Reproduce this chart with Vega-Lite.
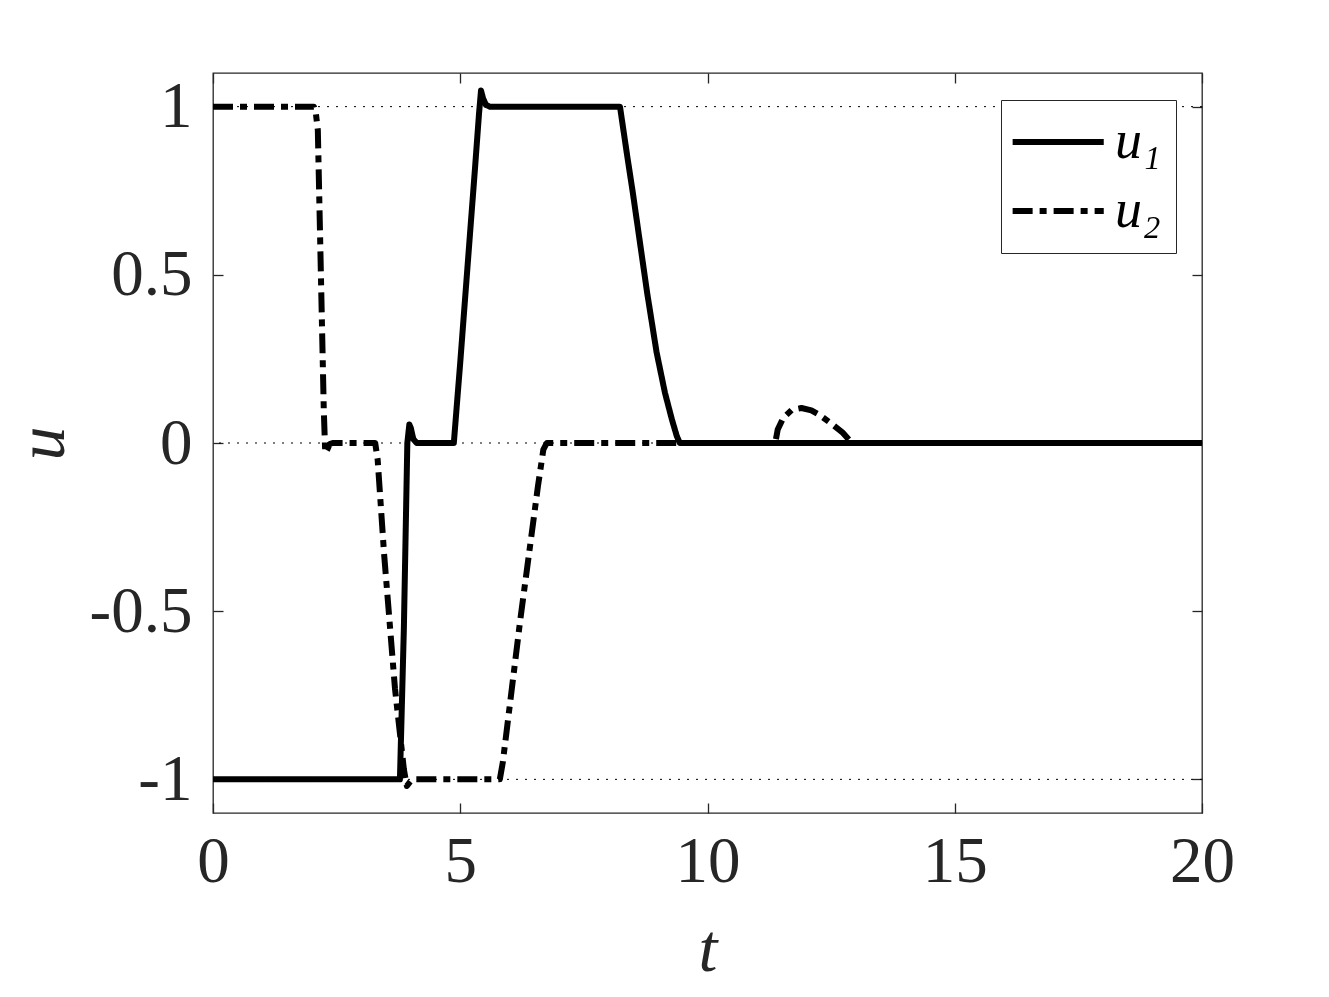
{
  "$schema": "https://vega.github.io/schema/vega-lite/v6.json",
  "width": 989,
  "height": 740,
  "autosize": {"type": "none"},
  "padding": {"left": 213, "top": 73, "right": 127, "bottom": 184},
  "background": "white",
  "config": {
    "view": {"stroke": "#262626", "strokeWidth": 1.3},
    "axis": {
      "domain": false,
      "grid": false,
      "labelFlush": false,
      "tickColor": "#262626",
      "tickWidth": 1.3,
      "tickSize": -10,
      "labelFont": "Liberation Serif",
      "labelFontSize": 65,
      "labelColor": "#262626",
      "titleFont": "Liberation Serif",
      "titleFontStyle": "italic",
      "titleFontWeight": "normal",
      "titleFontSize": 68,
      "titleColor": "#262626"
    }
  },
  "datasets": {
    "refs": [{"r": -1}, {"r": 0}, {"r": 1}],
    "lines": [
      {"s": "u₁", "t": 0, "u": -1},
      {"s": "u₁", "t": 3.78, "u": -1},
      {"s": "u₁", "t": 3.86, "u": -0.55},
      {"s": "u₁", "t": 3.93, "u": 0.0},
      {"s": "u₁", "t": 3.97, "u": 0.055},
      {"s": "u₁", "t": 4.0, "u": 0.045},
      {"s": "u₁", "t": 4.05, "u": 0.012},
      {"s": "u₁", "t": 4.12, "u": 0},
      {"s": "u₁", "t": 4.87, "u": 0},
      {"s": "u₁", "t": 5.0, "u": 0.24},
      {"s": "u₁", "t": 5.16, "u": 0.55},
      {"s": "u₁", "t": 5.3, "u": 0.82},
      {"s": "u₁", "t": 5.38, "u": 0.98},
      {"s": "u₁", "t": 5.42, "u": 1.048},
      {"s": "u₁", "t": 5.46, "u": 1.025},
      {"s": "u₁", "t": 5.52, "u": 1.005},
      {"s": "u₁", "t": 5.6, "u": 1},
      {"s": "u₁", "t": 8.23, "u": 1},
      {"s": "u₁", "t": 8.27, "u": 0.96},
      {"s": "u₁", "t": 8.38, "u": 0.85},
      {"s": "u₁", "t": 8.49, "u": 0.744},
      {"s": "u₁", "t": 8.63, "u": 0.6},
      {"s": "u₁", "t": 8.78, "u": 0.446},
      {"s": "u₁", "t": 8.97, "u": 0.27},
      {"s": "u₁", "t": 9.14, "u": 0.149},
      {"s": "u₁", "t": 9.28, "u": 0.07},
      {"s": "u₁", "t": 9.38, "u": 0.02},
      {"s": "u₁", "t": 9.44, "u": 0},
      {"s": "u₁", "t": 20, "u": 0},
      {"s": "u₂", "t": 0, "u": 1},
      {"s": "u₂", "t": 2.04, "u": 1},
      {"s": "u₂", "t": 2.08, "u": 0.98},
      {"s": "u₂", "t": 2.12, "u": 0.93},
      {"s": "u₂", "t": 2.24, "u": 0.1},
      {"s": "u₂", "t": 2.27, "u": -0.03},
      {"s": "u₂", "t": 2.31, "u": -0.02},
      {"s": "u₂", "t": 2.36, "u": -0.003},
      {"s": "u₂", "t": 2.42, "u": 0},
      {"s": "u₂", "t": 3.28, "u": 0},
      {"s": "u₂", "t": 3.33, "u": -0.05},
      {"s": "u₂", "t": 3.46, "u": -0.33},
      {"s": "u₂", "t": 3.68, "u": -0.73},
      {"s": "u₂", "t": 3.86, "u": -0.97},
      {"s": "u₂", "t": 3.92, "u": -1.02},
      {"s": "u₂", "t": 3.97, "u": -1.01},
      {"s": "u₂", "t": 4.03, "u": -1},
      {"s": "u₂", "t": 5.8, "u": -1},
      {"s": "u₂", "t": 5.86, "u": -0.95},
      {"s": "u₂", "t": 6.21, "u": -0.53},
      {"s": "u₂", "t": 6.57, "u": -0.13},
      {"s": "u₂", "t": 6.68, "u": -0.02},
      {"s": "u₂", "t": 6.75, "u": 0},
      {"s": "u₂", "t": 11.37, "u": 0},
      {"s": "u₂", "t": 11.42, "u": 0.04},
      {"s": "u₂", "t": 11.53, "u": 0.074},
      {"s": "u₂", "t": 11.7, "u": 0.098},
      {"s": "u₂", "t": 11.9, "u": 0.104},
      {"s": "u₂", "t": 12.1, "u": 0.097},
      {"s": "u₂", "t": 12.27, "u": 0.083},
      {"s": "u₂", "t": 12.5, "u": 0.058},
      {"s": "u₂", "t": 12.74, "u": 0.03},
      {"s": "u₂", "t": 12.92, "u": 0},
      {"s": "u₂", "t": 20, "u": 0}
    ]
  },
  "layer": [
    {
      "data": {"name": "refs"},
      "mark": {"type": "rule", "color": "#000000", "strokeWidth": 1, "strokeDash": [2, 7]},
      "encoding": {
        "y": {"field": "r", "type": "quantitative", "scale": {"domain": [-1.1, 1.1], "nice": false, "zero": false}, "axis": null}
      }
    },
    {
      "data": {"name": "lines"},
      "transform": [{"filter": "datum.s == 'u₂'"}],
      "mark": {"type": "line", "color": "#000000", "strokeWidth": 6, "strokeCap": "butt", "strokeJoin": "round"},
      "encoding": {
        "x": {"field": "t", "type": "quantitative", "scale": {"domain": [0, 20], "nice": false, "zero": false},
              "axis": {"orient": "top", "labels": false, "title": null, "values": [0, 5, 10, 15, 20]}},
        "y": {"field": "u", "type": "quantitative", "scale": {"domain": [-1.1, 1.1], "nice": false, "zero": false},
              "axis": {"orient": "right", "labels": false, "title": null, "values": [-1, -0.5, 0, 0.5, 1]}},
        "strokeDash": {
          "field": "s", "type": "nominal",
          "scale": {"domain": ["u₁", "u₂"], "range": [[1, 0], [20, 7, 7, 7]]},
          "legend": {
            "title": null,
            "orient": "none",
            "legendX": 788,
            "legendY": 27,
            "strokeColor": "#262626",
            "fillColor": "white",
            "padding": 15,
            "rowPadding": 15,
            "symbolType": "M-1.35,0H2.7",
            "symbolSize": 2025,
            "symbolStrokeWidth": 6,
            "symbolStrokeColor": "#000000",
            "symbolFillColor": "transparent",
            "labelFont": "Liberation Serif",
            "labelFontSize": 54,
            "labelFontStyle": "italic",
            "labelColor": "#000000",
            "labelOffset": 45
          }
        }
      }
    },
    {
      "data": {"name": "lines"},
      "transform": [{"filter": "datum.s == 'u₁'"}],
      "mark": {"type": "line", "color": "#000000", "strokeWidth": 6, "strokeCap": "butt", "strokeJoin": "round"},
      "encoding": {
        "x": {"field": "t", "type": "quantitative", "scale": {"domain": [0, 20], "nice": false, "zero": false},
              "axis": {"orient": "bottom", "title": "t", "values": [0, 5, 10, 15, 20], "labelPadding": 27, "titlePadding": 22}},
        "y": {"field": "u", "type": "quantitative", "scale": {"domain": [-1.1, 1.1], "nice": false, "zero": false},
              "axis": {"orient": "left", "title": "u", "values": [-1, -0.5, 0, 0.5, 1], "labelPadding": 31, "titlePadding": 12,
                       "labelExpr": "replace(format(datum.value, '~g'), '−', '-')"}},
        "strokeDash": {"field": "s", "type": "nominal", "scale": {"domain": ["u₁", "u₂"], "range": [[1, 0], [20, 7, 7, 7]]}}
      }
    }
  ],
  "resolve": {"axis": {"x": "independent", "y": "independent"}}
}
